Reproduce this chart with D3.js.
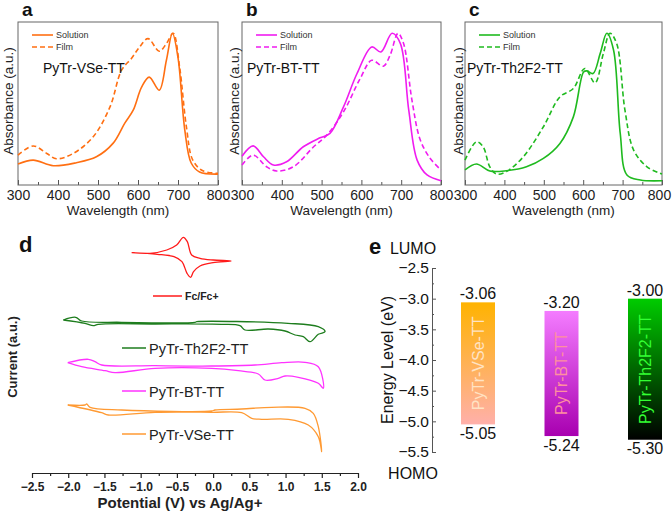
<!DOCTYPE html>
<html><head><meta charset="utf-8">
<script src="https://cdn.jsdelivr.net/npm/d3@7"></script>
<style>
html,body{margin:0;padding:0;background:#fff;}
svg{display:block;font-family:"Liberation Sans",Arial,sans-serif;}
</style></head><body>
<svg id="chart" width="672" height="515"></svg>
<script>
// ---------- DATA ----------
const wavelengthTicks = [300, 400, 500, 600, 700, 800];
// Panel a: PyTr-VSe-TT
const wlVseSol = [300,338,388,446,496,538,567,588,609,628,653,671,686,700,717,733,754,800];
const absVseSol = [0.138,0.164,0.127,0.147,0.186,0.276,0.408,0.493,0.645,0.711,0.625,0.822,1.0,0.84,0.362,0.145,0.086,0.072];
const wlVseFilm = [300,338,372,396,438,488,530,559,584,604,625,653,671,688,704,721,737,762,800];
const absVseFilm = [0.197,0.257,0.208,0.173,0.208,0.318,0.515,0.757,0.836,0.91,0.965,0.882,0.932,1.0,0.778,0.384,0.164,0.094,0.077];
// Panel b: PyTr-BT-TT
const wlBtSol = [300,328,354,379,412,454,496,521,555,589,626,649,677,698,719,740,765,800];
const absBtSol = [0.19,0.258,0.186,0.132,0.153,0.252,0.311,0.34,0.515,0.735,0.91,0.877,1.0,0.932,0.493,0.164,0.066,0.028];
const wlBtFilm = [300,328,362,387,429,480,513,555,597,626,655,672,692,706,727,748,773,800];
const absBtFilm = [0.132,0.197,0.12,0.092,0.12,0.252,0.329,0.482,0.702,0.822,0.783,0.855,1.0,0.932,0.559,0.296,0.175,0.099];
// Panel c: PyTr-Th2F2-TT
const wlThSol = [300,329,363,405,456,499,541,575,601,609,625,643,660,677,694,711,745,800];
const absThSol = [0.099,0.138,0.092,0.094,0.12,0.175,0.274,0.449,0.745,0.752,0.735,0.866,1.0,0.89,0.34,0.066,0.033,0.028];
const wlThFilm = [300,329,346,363,380,405,448,499,541,575,604,630,651,668,685,706,728,762,800];
const absThFilm = [0.164,0.285,0.252,0.12,0.072,0.088,0.186,0.384,0.581,0.636,0.768,0.673,0.866,1.0,0.932,0.493,0.23,0.12,0.072];

// Panel d: cyclic voltammetry (potential V, current a.u. with vertical offsets)
const potentialTicks = [-2.5,-2.0,-1.5,-1.0,-0.5,0.0,0.5,1.0,1.5,2.0];
const fcPot = [-1.124,-0.871,-0.64,-0.503,-0.411,-0.356,-0.296,-0.181,0.0,0.247,0.0,-0.181,-0.27,-0.31,-0.36,-0.43,-0.54,-0.77,-1.124];
const fcCur = [220.3,219.7,223,228,235.7,231.3,218,214.7,213,212,210.3,207,201.3,195.7,199.7,211.3,216.3,218.7,220.3];
const thPot = [-2.068,-1.897,-1.814,-1.262,-0.25,-0.226,1.034,1.452,1.545,1.452,1.338,1.245,1.131,0.993,0.762,0.44,0.371,0.119,-0.802,-1.585,-1.654,-1.768,-2.068];
const thCur = [153,155.7,152,150.7,150.7,151.3,149.7,146.3,141.3,138.7,131.3,136.3,138,142,144,143,147.3,148.7,149,148.7,147.3,149.7,153];
const btPot = [-2.007,-1.723,-1.63,-1.538,-0.802,-0.019,0.578,0.947,1.269,1.452,1.521,1.452,1.176,0.993,0.9,0.716,0.624,0.348,-0.019,-0.802,-1.354,-1.492,-1.814,-2.007];
const btCur = [110.3,113.7,111.3,108,107.3,107,108,110.3,110.7,106.3,84.7,89.7,95.7,97,94.7,93,99,102.3,104.7,104.7,100.3,102.3,106.3,110.3];
const vsePot = [-2.007,-1.768,-1.745,-1.699,-1.262,-0.019,0.026,0.395,0.809,1.269,1.383,1.452,1.499,1.452,1.314,1.038,0.671,0.533,0.395,-0.019,-0.802,-1.447,-1.538,-2.007];
const vseCur = [68,68,69,65.7,63,62,63,64,65.7,64.7,59.7,46.3,21.3,36.3,48,53.7,53.7,54.7,60.3,60.7,60.7,58,60.3,68];

// Panel e: energy levels
const compounds = ["PyTr-VSe-TT","PyTr-BT-TT","PyTr-Th2F2-TT"];
const lumo = [-3.06,-3.20,-3.00];
const homo = [-5.05,-5.24,-5.30];
const energyTicks = [-2.5,-3.0,-3.5,-4.0,-4.5,-5.0,-5.5];

// ---------- DRAW ----------
const svg = d3.select("#chart");
const FONT = "'Liberation Sans', Arial, sans-serif";
const zip = (xs, ys) => xs.map((x,i)=>[x, ys[i]]);

// ---- Panels a-c ----
const spectraPanels = [
  {label:"a", name:"PyTr-VSe-TT", x0:18, x1:218, color:"#ff6f12", sol:zip(wlVseSol,absVseSol), film:zip(wlVseFilm,absVseFilm), ylab:7.5, nameX:43},
  {label:"b", name:"PyTr-BT-TT", x0:242, x1:441, color:"#f01cf0", sol:zip(wlBtSol,absBtSol), film:zip(wlBtFilm,absBtFilm), ylab:233.5, nameX:247},
  {label:"c", name:"PyTr-Th2F2-TT", x0:465, x1:662, color:"#1fba1f", sol:zip(wlThSol,absThSol), film:zip(wlThFilm,absThFilm), ylab:458, nameX:467}
];
const yTop = 22, yBot = 185;
spectraPanels.forEach(p => {
  const g = svg.append("g");
  const x = d3.scaleLinear().domain([300,800]).range([p.x0,p.x1]);
  const y = d3.scaleLinear().domain([0,1]).range([yBot,33.3]);
  // minor ticks
  g.append("g").attr("transform",`translate(0,${yBot})`)
    .call(d3.axisBottom(x).tickValues(d3.range(350,800,100)).tickSizeInner(-3).tickSizeOuter(0).tickFormat(""))
    .call(s=>{s.select(".domain").remove(); s.selectAll("line").attr("stroke","#555");});
  g.append("g").attr("transform",`translate(0,${yBot})`)
    .call(d3.axisBottom(x).tickValues(wavelengthTicks).tickSizeInner(-5).tickSizeOuter(0).tickPadding(5))
    .call(s=>{s.select(".domain").remove(); s.selectAll("line").attr("stroke","#555");
      s.selectAll("text").attr("font-size","14px").attr("font-family",FONT).attr("fill","#222")
        .attr("dx", d => (p.label==="c" && d===800) ? -3 : 0);});
  g.append("rect").attr("x",p.x0).attr("y",yTop).attr("width",p.x1-p.x0).attr("height",yBot-yTop)
    .attr("fill","none").attr("stroke","#666").attr("stroke-width",1);
  const line = d3.line().x(d=>x(d[0])).y(d=>y(d[1])).curve(d3.curveCatmullRom.alpha(0.5));
  g.append("path").attr("d",line(p.film)).attr("fill","none").attr("stroke",p.color).attr("stroke-width",1.6).attr("stroke-dasharray","5,3");
  g.append("path").attr("d",line(p.sol)).attr("fill","none").attr("stroke",p.color).attr("stroke-width",1.6);
  // legend
  const lx = p.x0+14;
  g.append("line").attr("x1",lx).attr("x2",lx+21).attr("y1",35).attr("y2",35).attr("stroke",p.color).attr("stroke-width",1.6);
  g.append("line").attr("x1",lx).attr("x2",lx+21).attr("y1",47).attr("y2",47).attr("stroke",p.color).attr("stroke-width",1.6).attr("stroke-dasharray","5,3");
  g.append("text").attr("x",lx+24).attr("y",38).attr("font-size","9px").attr("fill","#333").text("Solution");
  g.append("text").attr("x",lx+24).attr("y",50).attr("font-size","9px").attr("fill","#333").text("Film");
  g.append("text").attr("x",p.nameX).attr("y",73).attr("font-size","14px").attr("fill","#111").text(p.name);
  // axis titles
  g.append("text").attr("x",(p.x0+p.x1)/2).attr("y",215).attr("text-anchor","middle").attr("font-size","13.5px").attr("fill","#222").text("Wavelength (nm)");
  g.append("text").attr("transform",`translate(${p.ylab+5},101) rotate(-90)`).attr("text-anchor","middle").attr("font-size","13.5px").attr("fill","#222").text("Absorbance (a.u.)");
  g.append("text").attr("x",p.x0+4).attr("y",16).attr("font-size","19px").attr("font-weight","bold").attr("fill","#111").text(p.label);
});

// ---- Panel d ----
const gd = svg.append("g");
const xCV = d3.scaleLinear().domain([-2.5,2.0]).range([32,358]);
const yCV = d3.scaleLinear().domain([0,253]).range([473,220]);
gd.append("g").attr("transform","translate(0,473)")
  .call(d3.axisBottom(xCV).tickValues(d3.range(-2.25,2.0,0.5)).tickSizeInner(3).tickSizeOuter(0).tickFormat(""))
  .call(s=>{s.select(".domain").remove(); s.selectAll("line").attr("stroke","#222").attr("stroke-width",1.2);});
gd.append("g").attr("transform","translate(0,473)")
  .call(d3.axisBottom(xCV).tickValues(potentialTicks).tickSizeInner(5).tickSizeOuter(0).tickPadding(4).tickFormat(d3.format(".1f")))
  .call(s=>{s.select(".domain").attr("stroke","#222").attr("stroke-width",1.2); s.selectAll("line").attr("stroke","#222").attr("stroke-width",1.2);
    s.selectAll("text").attr("font-size","12px").attr("font-weight","bold").attr("font-family",FONT).attr("fill","#222");});
gd.append("text").attr("x",180).attr("y",508).attr("text-anchor","middle").attr("font-size","15px").attr("font-weight","bold").attr("fill","#222").text("Potential (V) vs Ag/Ag+");
gd.append("text").attr("transform","translate(17,357) rotate(-90)").attr("text-anchor","middle").attr("font-size","13px").attr("font-weight","bold").attr("fill","#222").text("Current (a.u.)");
gd.append("text").attr("x",19).attr("y",252).attr("font-size","22px").attr("font-weight","bold").attr("fill","#111").text("d");
const cvLine = d3.line().x(d=>xCV(d[0])).y(d=>yCV(d[1])).curve(d3.curveCatmullRom.alpha(0.5));
const cvSeries = [
  {pts:zip(fcPot,fcCur), color:"#ff1a1a", name:"Fc/Fc+", lx0:153, lx1:182, ly:296, bold:true},
  {pts:zip(thPot,thCur), color:"#1e7d1e", name:"PyTr-Th2F2-TT", lx0:122, lx1:146, ly:348},
  {pts:zip(btPot,btCur), color:"#ff33ff", name:"PyTr-BT-TT", lx0:122, lx1:146, ly:391},
  {pts:zip(vsePot,vseCur), color:"#ff9a33", name:"PyTr-VSe-TT", lx0:122, lx1:146, ly:434}
];
cvSeries.forEach(s => {
  gd.append("path").attr("d",cvLine(s.pts)).attr("fill","none").attr("stroke",s.color).attr("stroke-width",1.3);
  gd.append("line").attr("x1",s.lx0).attr("x2",s.lx1).attr("y1",s.ly).attr("y2",s.ly).attr("stroke",s.color).attr("stroke-width",1.5);
  gd.append("text").attr("x",s.lx1+3).attr("y",s.ly+(s.bold?4:5.5))
    .attr("font-size",s.bold?"10.5px":"14.5px").attr("font-weight",s.bold?"bold":"normal").attr("fill","#222").text(s.name);
});

// ---- Panel e ----
const ge = svg.append("g");
const yE = d3.scaleLinear().domain([-2.5,-5.5]).range([268,452]);
const axX = 432;
ge.append("g").attr("transform",`translate(${axX},0)`)
  .call(d3.axisLeft(yE).tickValues(d3.range(-2.75,-5.5,-0.5)).tickSizeInner(-2).tickSizeOuter(0).tickFormat(""))
  .call(s=>{s.select(".domain").remove(); s.selectAll("line").attr("stroke","#555");});
ge.append("g").attr("transform",`translate(${axX},0)`)
  .call(d3.axisLeft(yE).tickValues(energyTicks).tickSizeInner(-4).tickSizeOuter(0).tickPadding(3).tickFormat(d3.format(".1f")))
  .call(s=>{s.select(".domain").attr("stroke","#555"); s.selectAll("line").attr("stroke","#555");
    s.selectAll("text").attr("font-size","15.5px").attr("font-family",FONT).attr("fill","#111");});
ge.append("text").attr("x",413).attr("y",254).attr("text-anchor","middle").attr("font-size","16px").attr("fill","#111").text("LUMO");
ge.append("text").attr("x",413).attr("y",479).attr("text-anchor","middle").attr("font-size","16px").attr("fill","#111").text("HOMO");
ge.append("text").attr("x",369).attr("y",254).attr("font-size","22px").attr("font-weight","bold").attr("fill","#111").text("e");
ge.append("text").attr("transform","translate(393,360) rotate(-90)").attr("text-anchor","middle").attr("font-size","16px").attr("fill","#111").text("Energy Level (eV)");

const gradStops = [["#ffb300","#ffb0aa"],["#f47cff","#a800b0"],["#00cc00","#000000"]];
const innerTextColor = ["#ffe3c4","#ff8fa0","#33ff33"];
const defs = svg.append("defs");
compounds.forEach((c,i)=>{
  const gr = defs.append("linearGradient").attr("id","grad"+i).attr("x1",0).attr("y1",0).attr("x2",0).attr("y2",1);
  gr.append("stop").attr("offset","0%").attr("stop-color",gradStops[i][0]);
  gr.append("stop").attr("offset","100%").attr("stop-color",gradStops[i][1]);
});
const xE = d3.scalePoint().domain(compounds).range([478,645]);
const bw = 34;
compounds.forEach((c,i)=>{
  const bx = xE(c) - bw/2;
  const yt = yE(lumo[i]), yb = yE(homo[i]);
  ge.append("rect").attr("x",bx).attr("y",yt).attr("width",bw).attr("height",yb-yt).attr("fill",`url(#grad${i})`);
  ge.append("text").attr("x",bx+bw/2).attr("y",yt-3).attr("text-anchor","middle").attr("font-size","16px").attr("fill","#111").text(lumo[i].toFixed(2));
  ge.append("text").attr("x",bx+bw/2).attr("y",yb+14.5).attr("text-anchor","middle").attr("font-size","16px").attr("fill","#111").text(homo[i].toFixed(2));
  ge.append("text").attr("transform",`translate(${bx+bw/2+5.5},${(yt+yb)/2}) rotate(-90)`).attr("text-anchor","middle")
    .attr("font-size","16px").attr("fill",innerTextColor[i]).text(c);
});
</script>
</body></html>
